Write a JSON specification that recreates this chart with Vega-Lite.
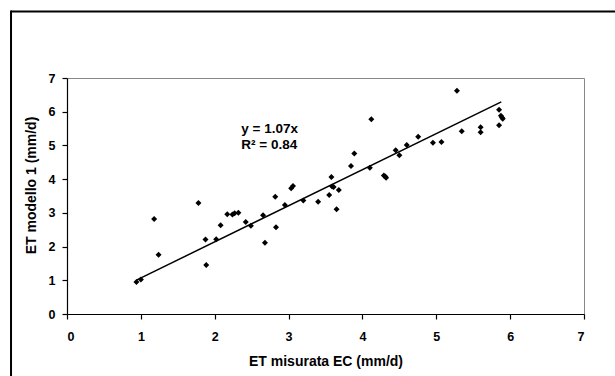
{
  "$schema": "https://vega.github.io/schema/vega-lite/v6.json",
  "autosize": {"type": "none"},
  "padding": {"left": 67, "top": 78, "right": 31, "bottom": 62},
  "width": 517,
  "height": 236,
  "background": "white",
  "config": {
    "font": "Liberation Sans",
    "view": {"stroke": "#888888", "strokeWidth": 1},
    "axis": {
      "domainColor": "black",
      "domainWidth": 1.2,
      "tickColor": "black",
      "tickWidth": 1.2,
      "grid": false,
      "labelFont": "Liberation Sans",
      "labelFontWeight": "bold",
      "labelFontSize": 12,
      "labelColor": "black",
      "labelOverlap": false,
      "titleFont": "Liberation Sans",
      "titleFontWeight": "bold",
      "titleFontSize": 14,
      "titleColor": "black",
      "tickSize": 5
    }
  },
  "resolve": {"axis": {"x": "independent", "y": "independent"}},
  "datasets": {
    "obs": [
      {"ec": 0.94, "mod": 0.95}, {"ec": 1.00, "mod": 1.02}, {"ec": 1.18, "mod": 2.82},
      {"ec": 1.24, "mod": 1.76}, {"ec": 1.78, "mod": 3.29}, {"ec": 1.875, "mod": 2.21},
      {"ec": 1.885, "mod": 1.45}, {"ec": 2.02, "mod": 2.22}, {"ec": 2.08, "mod": 2.63},
      {"ec": 2.17, "mod": 2.96}, {"ec": 2.24, "mod": 2.95}, {"ec": 2.27, "mod": 2.99},
      {"ec": 2.32, "mod": 3.00}, {"ec": 2.42, "mod": 2.73}, {"ec": 2.49, "mod": 2.62},
      {"ec": 2.655, "mod": 2.93}, {"ec": 2.68, "mod": 2.11}, {"ec": 2.82, "mod": 3.48},
      {"ec": 2.83, "mod": 2.57}, {"ec": 2.95, "mod": 3.23}, {"ec": 3.035, "mod": 3.73},
      {"ec": 3.06, "mod": 3.80}, {"ec": 3.20, "mod": 3.37}, {"ec": 3.40, "mod": 3.33},
      {"ec": 3.55, "mod": 3.53}, {"ec": 3.58, "mod": 4.06}, {"ec": 3.59, "mod": 3.78},
      {"ec": 3.61, "mod": 3.77}, {"ec": 3.65, "mod": 3.11}, {"ec": 3.68, "mod": 3.68},
      {"ec": 3.845, "mod": 4.39}, {"ec": 3.89, "mod": 4.76}, {"ec": 4.10, "mod": 4.34},
      {"ec": 4.12, "mod": 5.78}, {"ec": 4.29, "mod": 4.11}, {"ec": 4.31, "mod": 4.08},
      {"ec": 4.32, "mod": 4.04}, {"ec": 4.45, "mod": 4.86}, {"ec": 4.50, "mod": 4.71},
      {"ec": 4.60, "mod": 5.01}, {"ec": 4.755, "mod": 5.26}, {"ec": 4.955, "mod": 5.08},
      {"ec": 5.07, "mod": 5.10}, {"ec": 5.28, "mod": 6.62}, {"ec": 5.345, "mod": 5.42},
      {"ec": 5.60, "mod": 5.54}, {"ec": 5.60, "mod": 5.39}, {"ec": 5.85, "mod": 6.06},
      {"ec": 5.85, "mod": 5.60}, {"ec": 5.875, "mod": 5.88}, {"ec": 5.89, "mod": 5.83},
      {"ec": 5.90, "mod": 5.79}
    ],
    "trend": [
      {"ec": 0.94, "mod": 1.006},
      {"ec": 5.88, "mod": 6.29}
    ],
    "labels": [
      {"line": "y = 1.07x", "row": 1},
      {"line": "R² = 0.84", "row": 2}
    ]
  },
  "layer": [
    {
      "data": {"name": "obs"},
      "mark": {"type": "point", "shape": "diamond", "filled": true, "color": "black", "size": 36, "opacity": 1},
      "encoding": {
        "x": {
          "field": "ec", "type": "quantitative",
          "scale": {"domain": [0, 7], "nice": false, "zero": false},
          "axis": {"values": [0, 1, 2, 3, 4, 5, 6, 7], "title": "ET misurata EC (mm/d)", "labelPadding": 11, "titlePadding": 12, "format": "d", "labelFontWeight": "bold", "labelFontSize": 12.5, "labelColor": "black"}
        },
        "y": {
          "field": "mod", "type": "quantitative",
          "scale": {"domain": [0, 7], "nice": false, "zero": false},
          "axis": {"values": [0, 1, 2, 3, 4, 5, 6, 7], "title": "ET modello 1 (mm/d)", "labelPadding": 7, "titlePadding": 10, "titleY": 107, "format": "d", "labelFontWeight": "bold", "labelFontSize": 12.5, "labelColor": "black"}
        }
      }
    },
    {
      "data": {"name": "trend"},
      "mark": {"type": "line", "color": "black", "strokeWidth": 1.5},
      "encoding": {
        "x": {"field": "ec", "type": "quantitative", "axis": null},
        "y": {"field": "mod", "type": "quantitative", "axis": null}
      }
    },
    {
      "data": {"name": "labels"},
      "transform": [{"filter": "datum.row == 1"}],
      "mark": {"type": "text", "align": "left", "baseline": "alphabetic", "font": "Liberation Sans", "fontWeight": "bold", "fontSize": 13.5, "color": "black"},
      "encoding": {
        "x": {"datum": 2.36, "axis": null},
        "y": {"datum": 5.36, "axis": null},
        "text": {"field": "line"}
      }
    },
    {
      "data": {"name": "labels"},
      "transform": [{"filter": "datum.row == 2"}],
      "mark": {"type": "text", "align": "left", "baseline": "alphabetic", "font": "Liberation Sans", "fontWeight": "bold", "fontSize": 13.5, "color": "black"},
      "encoding": {
        "x": {"datum": 2.36, "axis": null},
        "y": {"datum": 4.9, "axis": null},
        "text": {"field": "line"}
      }
    },
    {
      "data": {"values": [{}]},
      "mark": {"type": "rule", "color": "black", "strokeWidth": 2, "clip": false},
      "encoding": {
        "x": {"datum": -0.758, "axis": null},
        "x2": {"datum": 7.6},
        "y": {"datum": 8.97, "axis": null}
      }
    },
    {
      "data": {"values": [{}]},
      "mark": {"type": "rule", "color": "black", "strokeWidth": 2, "clip": false},
      "encoding": {
        "x": {"datum": -0.758, "axis": null},
        "y": {"datum": 9.0, "axis": null},
        "y2": {"datum": -2}
      }
    }
  ]
}
